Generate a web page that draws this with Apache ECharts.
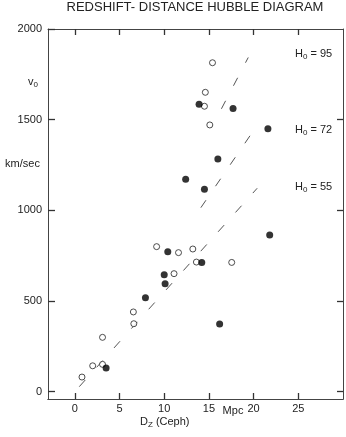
<!DOCTYPE html>
<html>
<head>
<meta charset="utf-8">
<script src="https://cdn.jsdelivr.net/npm/echarts@6/dist/echarts.min.js"></script>
<style>
html,body{margin:0;padding:0;background:#fff}
#chart{width:346px;height:437px}
</style>
</head>
<body>
<div id="chart"></div>
<script>
// Cepheid distance (Mpc) and velocity (km/sec)
const filledD = [3.5, 7.9, 10.0, 10.1, 10.4, 14.2, 16.2, 21.8, 12.4, 14.5, 16.0, 13.9, 17.7, 21.6]
const filledV = [131, 518, 645, 596, 772, 713, 373, 864, 1171, 1116, 1283, 1585, 1562, 1450]
const openD = [0.8, 2.0, 3.1, 3.1, 6.55, 6.6, 9.15, 11.1, 11.6, 13.2, 13.6, 17.55, 15.4, 14.6, 14.5, 15.1]
const openV = [81, 143, 151, 300, 440, 375, 800, 651, 767, 787, 715, 713, 1814, 1651, 1574, 1471]

// dashed Hubble lines, H0 = 55 / 72 / 95
const h0Values = [55, 72, 95]
const h0LineFrom = [[0.5, 28], [14.1, 1015], [16.4, 1560]]
const h0LineTo = [[20.4, 1122], [20.2, 1455], [19.4, 1843]]

const xTicks = [0, 5, 10, 15, 20, 25]
const yTicks = [0, 500, 1000, 1500, 2000]
const yTicksRight = [0, 500, 1000, 1500]

const font = 'Liberation Sans, Arial, Helvetica, sans-serif'
const ink = '#222'
const frame = '#444'

const myChart = echarts.init(document.getElementById('chart'))

const pairs = (xs, ys) => xs.map((x, i) => [x, ys[i]])

const lineSeries = h0Values.map((h, i) => ({
    name: 'H0 = ' + h,
    type: 'line',
    data: [h0LineFrom[i], h0LineTo[i]],
    symbol: 'none',
    silent: true,
    lineStyle: { color: '#555', width: 1, type: [9, 17] },
    z: 1
}))

const sub = (main, s, rest, size) => ({
    text: '{m|' + main + '}{s|' + s + '}' + (rest ? '{m|' + rest + '}' : ''),
    rich: {
        m: { fontSize: size, fontFamily: font, lineHeight: 14, fill: ink },
        s: { fontSize: 8, fontFamily: font, lineHeight: 8, verticalAlign: 'bottom', fill: ink }
    }
})

const label = (x, y, style, align) => ({
    type: 'text', x: x, y: y,
    style: Object.assign({ textAlign: align || 'left', textVerticalAlign: 'middle', fill: ink, font: '11px ' + font }, style)
})

// ticks == null -> no ticks, labels == null -> no labels
const axisBase = (pos, min, max, tickLen, ticks, labels, margin) => ({
    type: 'value', min: min, max: max, position: pos,
    axisLine: { show: true, onZero: false, lineStyle: { color: frame, width: 1 } },
    axisTick: ticks
        ? { show: true, inside: true, length: tickLen, customValues: ticks, lineStyle: { color: '#333', width: 1.3 } }
        : { show: false },
    axisLabel: labels
        ? { show: true, customValues: labels, margin: margin, fontSize: 11, color: ink, fontFamily: font, formatter: v => String(v) }
        : { show: false },
    splitLine: { show: false }
})

let option = {
    animation: false,
    backgroundColor: '#fff',
    grid: { left: 48, right: 3, top: 29, bottom: 38 },
    xAxis: [
        axisBase('bottom', -3, 30, 6, null, xTicks, 4),
        axisBase('top', -3, 30, 6, xTicks, null),
        axisBase('bottom', -3, 30, 6, xTicks, null)   // ticks only
    ],
    yAxis: [
        axisBase('left', -40, 2000, 7, yTicks, yTicks, 6),
        axisBase('right', -40, 2000, 6, yTicksRight, null)
    ],
    series: lineSeries.concat([
        {
            name: 'open', type: 'scatter', data: pairs(openD, openV),
            symbol: 'circle', symbolSize: 6,
            itemStyle: { color: '#fff', borderColor: '#222', borderWidth: 1 },
            z: 3
        },
        {
            name: 'filled', type: 'scatter', data: pairs(filledD, filledV),
            symbol: 'circle', symbolSize: 7,
            itemStyle: { color: '#000' },
            z: 4
        }
    ]),
    graphic: [
        label(195, 7.5, { text: 'REDSHIFT- DISTANCE HUBBLE DIAGRAM', font: '13px ' + font }, 'center'),
        label(295, 53.7, sub('H', '0', ' = ' + h0Values[2], 11)),
        label(295, 129.5, sub('H', '0', ' = ' + h0Values[1], 11)),
        label(295, 187, sub('H', '0', ' = ' + h0Values[0], 11)),
        label(28, 81.5, sub('v', '0', '', 11)),
        label(22.5, 163.5, { text: 'km/sec' }, 'center'),
        label(233, 411, { text: 'Mpc' }, 'center'),
        label(140, 422, sub('D', 'Z', ' (Ceph)', 11))
    ]
}

myChart.setOption(option)
</script>
</body>
</html>
